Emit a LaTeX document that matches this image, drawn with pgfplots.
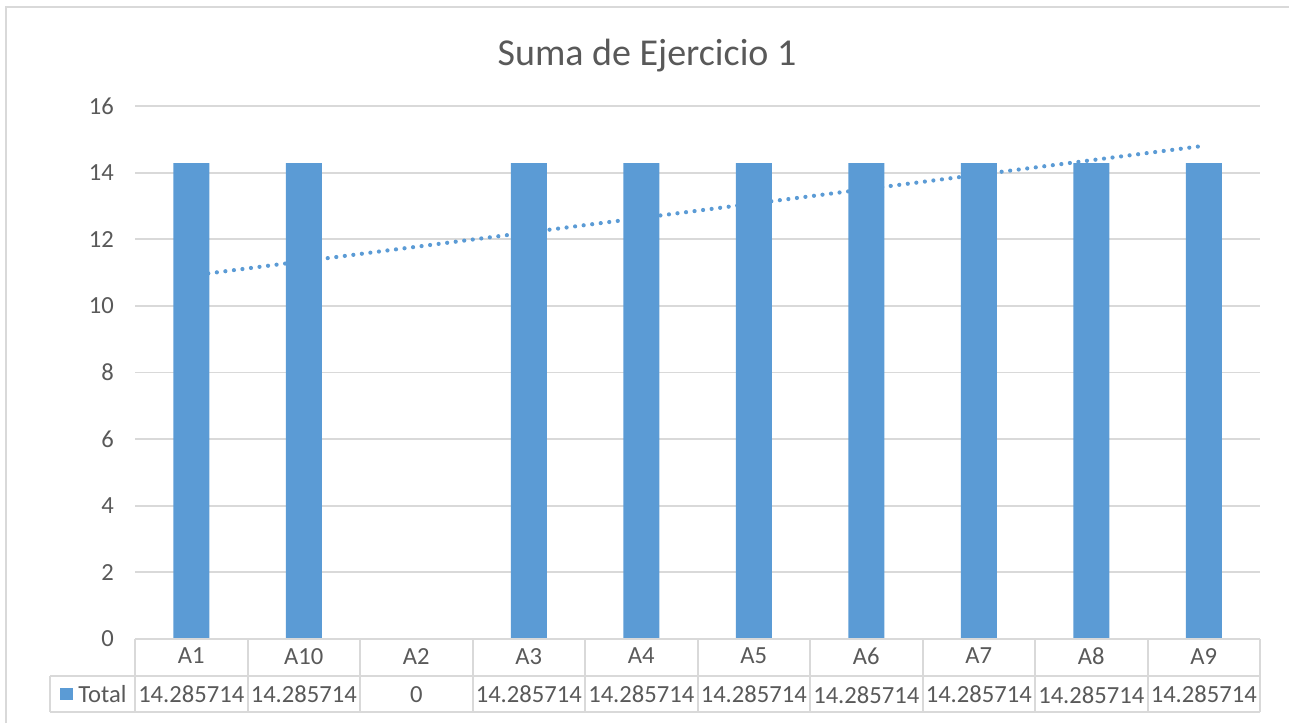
\documentclass[border=0pt]{standalone}
\usepackage{fontspec}
\setmainfont{Carlito}
\usepackage{pgfplots}
\pgfplotsset{compat=1.18}
\definecolor{barblue}{HTML}{5B9BD5}
\definecolor{txtgray}{HTML}{595959}
\definecolor{gridgray}{HTML}{D9D9D9}
\begin{document}
\begin{tikzpicture}
\path[use as bounding box] (0,0) rectangle (644.5pt,-361.5pt);
\begin{axis}[
  at={(67.5pt,-319.5pt)}, anchor=south west,
  scale only axis, width=562.5pt, height=266.5pt,
  xmin=-0.5, xmax=9.5, ymin=0, ymax=16,
  ytick={0,2,...,16},
  xtick={0,...,9},
  xticklabels={{A1\\[4.6pt]14.285714},{A10\\[4.6pt]14.285714},{A2\\[4.6pt]0},{A3\\[4.6pt]14.285714},{A4\\[4.6pt]14.285714},{A5\\[4.6pt]14.285714},{A6\\[4.6pt]14.285714},{A7\\[4.6pt]14.285714},{A8\\[4.6pt]14.285714},{A9\\[4.6pt]14.285714}},
  axis line style={draw=none},
  major tick length=0pt,
  ymajorgrids, grid style={gridgray, line width=0.9pt},
  tick label style={font=\fontsize{12.3}{14.6}\selectfont, text=txtgray},
  yticklabel style={xshift=-7pt},
  xticklabel style={align=center, yshift=-1pt},
  /pgf/number format/assume math mode=true,
  clip=false,
]
% linear trendline (least squares over the 10 values)
\addplot[barblue, line width=2.1pt, line cap=round, dash pattern=on 0pt off 4.3pt] coordinates {(0,10.909) (9,14.805)};
\addplot[ybar, bar width=18pt, fill=barblue, draw=none] coordinates {
(0,14.285714) (1,14.285714) (2,0) (3,14.285714) (4,14.285714)
(5,14.285714) (6,14.285714) (7,14.285714) (8,14.285714) (9,14.285714)};
\end{axis}
\begin{scope}[x=0.5pt,y=-0.5pt]
  % outer chart frame
  \draw[gridgray, line width=1pt] (6,723) -- (6,7) -- (1289,7);
  % title
  \node[anchor=base, text=txtgray, font=\fontsize{19}{22}\selectfont] at (647,65) {Suma de Ejercicio 1};
  % data table grid
  \draw[gridgray, line width=1pt] (135,639) -- (1260,639);
  \draw[gridgray, line width=1pt] (50,676) -- (1260,676);
  \draw[gridgray, line width=1pt] (50,712) -- (1260,712);
  \draw[gridgray, line width=1pt] (50,676) -- (50,712);
  \foreach \k in {0,...,10} {
    \draw[gridgray, line width=1pt] (135+112.5*\k,639) -- (135+112.5*\k,712);
  }
  % legend key
  \fill[barblue] (60,688) rectangle (73,700);
  \node[anchor=base west, inner sep=0pt, text=txtgray, font=\fontsize{12.3}{14.6}\selectfont] at (78,702) {Total};
\end{scope}
\end{tikzpicture}
\end{document}
